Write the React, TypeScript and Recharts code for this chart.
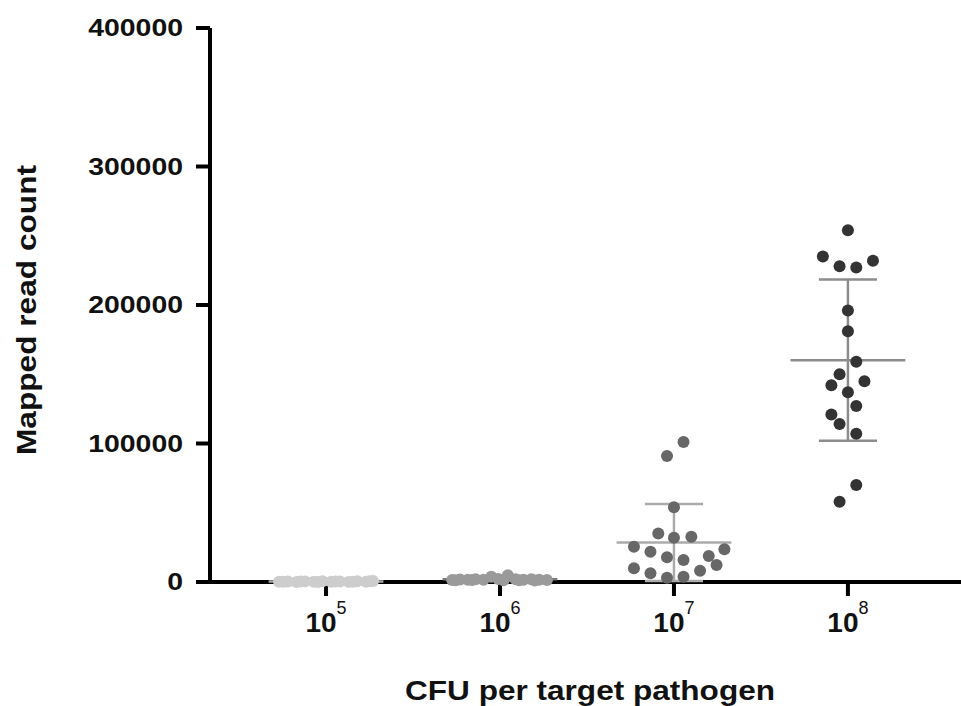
import { ScatterChart, Scatter, XAxis, YAxis } from 'recharts';

// CFU exponents (10^n) for each group, left to right
const exponents = [5, 6, 7, 8];
const yTicks = [0, 100000, 200000, 300000, 400000];

// horizontal spread of each dot inside its column (category units) and read counts
const e5Offsets = [-0.27, -0.22, -0.17, -0.12, -0.07, -0.02, 0.03, 0.08, 0.13, 0.18, 0.23, 0.27, -0.245, -0.145, -0.045, 0.055, 0.155, 0.25];
const e5Values = [120, 300, 80, 450, 200, 600, 150, 350, 90, 500, 250, 700, 180, 400, 60, 320, 220, 540];

const e6Offsets = [-0.275, -0.23, -0.185, -0.14, -0.095, -0.05, -0.01, 0.045, 0.09, 0.135, 0.18, 0.225, 0.27, -0.255, -0.16, 0.02, 0.11, 0.2];
const e6Values = [1500, 1800, 1600, 2000, 1700, 3800, 2200, 4800, 1900, 1600, 2000, 1700, 1500, 1300, 1400, 1200, 1300, 1100];

const e7Offsets = [0.055, -0.04, 0, -0.09, 0, 0.1, -0.23, 0.29, -0.135, -0.04, 0.055, 0.2, 0.245, -0.23, -0.135, 0.15, -0.04, 0.055];
const e7Values = [101000, 91000, 54000, 35000, 32000, 32700, 25500, 23600, 21900, 17800, 15900, 18800, 12300, 9900, 6300, 8200, 3100, 3800];

const e8Offsets = [0, -0.144, -0.048, 0.048, 0.144, 0, 0, 0.048, -0.048, -0.095, 0.095, 0, 0.048, -0.095, -0.048, 0.048, 0.048, -0.048];
const e8Values = [254000, 235000, 228000, 227000, 232000, 196000, 181000, 159000, 150000, 142000, 145000, 137000, 127000, 121000, 114000, 107000, 70000, 58000];

const dotColors = ['#cdcdcd', '#9a9a9a', '#676767', '#333333'];
const lineColors = ['#a8a8a8', '#7a7a7a', '#ababab', '#8c8c8c'];

const groups = [
  { offsets: e5Offsets, values: e5Values },
  { offsets: e6Offsets, values: e6Values },
  { offsets: e7Offsets, values: e7Values },
  { offsets: e8Offsets, values: e8Values },
];

function stats(values: number[]) {
  const mean = values.reduce((a, b) => a + b, 0) / values.length;
  const variance = values.reduce((a, b) => a + (b - mean) ** 2, 0) / (values.length - 1);
  return { mean, sd: Math.sqrt(variance) };
}

// mean line, SD whisker and caps for each group, as two-point segments
function errorSegments(i: number, values: number[]) {
  const { mean, sd } = stats(values);
  const low = Math.max(0, mean - sd);
  const high = mean + sd;
  return [
    [{ x: i - 0.33, y: mean }, { x: i + 0.33, y: mean }],
    [{ x: i, y: low }, { x: i, y: high }],
    [{ x: i - 0.167, y: high }, { x: i + 0.167, y: high }],
    [{ x: i - 0.167, y: low }, { x: i + 0.167, y: low }],
  ];
}

const FONT = "'Liberation Sans', Arial, sans-serif";

const XTick = (props: any) => {
  const { x, y, payload } = props;
  return (
    <text x={x} y={y} textAnchor="middle" fill="#111" fontFamily={FONT}>
      <tspan fontSize={28} fontWeight="bold" dy={34}>10</tspan>
      <tspan fontSize={18} dy={-18}>{exponents[payload.value]}</tspan>
    </text>
  );
};

const YTick = (props: any) => {
  const { x, y, payload } = props;
  const label = String(payload.value);
  return (
    <text
      x={x}
      y={y}
      dy={8}
      textAnchor="end"
      fill="#111"
      fontFamily={FONT}
      fontSize={23}
      fontWeight="bold"
      textLength={label.length * 15.8}
      lengthAdjust="spacingAndGlyphs"
    >
      {label}
    </text>
  );
};

export default function App() {
  return (
    <div style={{ position: 'absolute', left: 0, top: 0, background: '#fff' }}>
      <ScatterChart width={961} height={706} margin={{ top: 28, right: 0, bottom: 64, left: 0 }}>
        <XAxis
          type="number"
          dataKey="x"
          domain={[-0.667, 3.65]}
          ticks={[0, 1, 2, 3]}
          tick={<XTick />}
          tickSize={14}
          tickMargin={2}
          height={60}
          axisLine={{ stroke: '#000', strokeWidth: 4 }}
          tickLine={{ stroke: '#000', strokeWidth: 4 }}
          allowDataOverflow
          label={{
            content: () => (
              <text
                x={590}
                y={700}
                textAnchor="middle"
                fill="#111"
                fontFamily={FONT}
                fontSize={27}
                fontWeight="bold"
                textLength={370}
                lengthAdjust="spacingAndGlyphs"
              >
                CFU per target pathogen
              </text>
            ),
          }}
        />
        <YAxis
          type="number"
          dataKey="y"
          domain={[0, 400000]}
          ticks={yTicks}
          tick={<YTick />}
          tickSize={14}
          tickMargin={13}
          width={210}
          axisLine={{ stroke: '#000', strokeWidth: 4 }}
          tickLine={{ stroke: '#000', strokeWidth: 4 }}
          label={{
            content: () => (
              <text
                x={36}
                y={310}
                transform="rotate(-90 36 310)"
                textAnchor="middle"
                fill="#111"
                fontFamily={FONT}
                fontSize={27}
                fontWeight="bold"
                textLength={290}
                lengthAdjust="spacingAndGlyphs"
              >
                Mapped read count
              </text>
            ),
          }}
        />
        {groups.map((g, i) =>
          errorSegments(i, g.values).map((seg, k) => (
            <Scatter
              key={`e${i}-${k}`}
              data={seg}
              line={{ stroke: lineColors[i], strokeWidth: 2.5 }}
              shape={() => <g />}
              isAnimationActive={false}
            />
          ))
        )}
        {groups.map((g, i) => (
          <Scatter
            key={`s${i}`}
            data={g.values.map((v, j) => ({ x: i + g.offsets[j], y: v }))}
            fill={dotColors[i]}
            isAnimationActive={false}
            shape={(p: any) => <circle cx={p.cx} cy={p.cy} r={6} fill={dotColors[i]} />}
          />
        ))}
      </ScatterChart>
    </div>
  );
}
